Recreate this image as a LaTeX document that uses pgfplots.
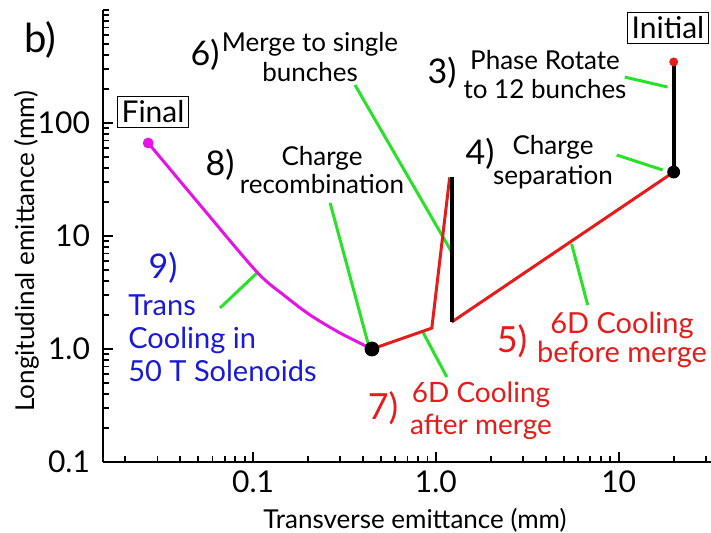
\documentclass[border=0pt]{standalone}
\usepackage{pgfplots}
\pgfplotsset{compat=1.18}
\usepackage{fontspec}
\setmainfont{Lato}
\definecolor{rd}{RGB}{228,28,28}
\definecolor{gr}{RGB}{40,225,40}
\definecolor{mg}{RGB}{228,20,228}
\definecolor{bl}{RGB}{25,25,215}
\begin{document}
\begin{tikzpicture}
\begin{axis}[
  xmode=log, ymode=log,
  scale only axis, width=304pt, height=226pt,
  xmin=0.0151, xmax=32, ymin=0.1, ymax=1000,
  axis x line*=bottom, axis y line*=left,
  axis line style={-, line width=1.2pt, black},
  xtick={0.1,1,10}, xticklabels={0.1,1.0,10},
  ytick={0.1,1,10,100}, yticklabels={0.1,1.0,10,100},
  minor xtick={0.02,0.03,0.04,0.05,0.06,0.07,0.08,0.09,0.2,0.3,0.4,0.5,0.6,0.7,0.8,0.9,2,3,4,5,6,7,8,9,20,30},
  minor ytick={0.2,0.3,0.4,0.5,0.6,0.7,0.8,0.9,2,3,4,5,6,7,8,9,20,30,40,50,60,70,80,90,200,300,400,500,600,700,800,900,1000},
  tick align=inside, major tick length=5pt, minor tick length=3pt,
  tick style={black, line width=0.9pt},
  /pgf/number format/assume math mode=true,
  ticklabel style={font=\fontsize{15}{15}\selectfont},
  yticklabel style={xshift=-3pt},
  xticklabel style={yshift=-1pt},
  xlabel={Transverse emittance (mm)},
  ylabel={Longitudinal emittance (mm)},
  label style={font=\fontsize{13}{13}\selectfont},
  xlabel style={at={(axis description cs:0.513,-0.128)}, anchor=center},
  ylabel style={at={(axis description cs:-0.125,0.467)}, anchor=center, rotate=0},
  clip=false,
]
% green leader lines
\addplot[gr, line width=1.5pt] coordinates {(10.8,255) (18.5,208)};
\addplot[gr, line width=1.5pt] coordinates {(9.75,52.1) (17.4,38.4)};
\addplot[gr, line width=1.5pt] coordinates {(0.361,217) (1.22,7.22)};
\addplot[gr, line width=1.5pt] coordinates {(0.264,19.6) (0.425,1.13)};
\addplot[gr, line width=1.5pt] coordinates {(0.066,2.31) (0.105,4.7)};
\addplot[gr, line width=1.5pt] coordinates {(0.849,1.41) (1.148,0.565)};
\addplot[gr, line width=1.5pt] coordinates {(5.53,8.49) (6.77,2.45)};
% trajectory
\addplot[mg, line width=1.5pt, smooth, tension=0.5] coordinates {(0.0267,66.5) (0.0513,18.8) (0.105,4.80) (0.1496,2.94) (0.205,2.0) (0.299,1.386) (0.447,1.0)};
\addplot[rd, line width=1.5pt] coordinates {(20,36.8) (1.22,1.73)};
\addplot[rd, line width=1.5pt] coordinates {(0.447,1.0) (0.95,1.53) (1.19,33)};
\addplot[black, line width=2pt] coordinates {(1.22,1.73) (1.22,33)};
\addplot[black, line width=2pt] coordinates {(20,347) (20,36.8)};
% markers
\addplot[only marks, mark=*, mark size=2pt, rd, mark options={draw=rd, fill=rd}] coordinates {(20,347)};
\addplot[only marks, mark=*, mark size=3pt, black] coordinates {(20,36.8)};
\addplot[only marks, mark=*, mark size=3.5pt, black] coordinates {(0.447,1.0)};
\addplot[only marks, mark=*, mark size=2.5pt, mg, mark options={draw=mg, fill=mg}] coordinates {(0.0267,66.5)};
\end{axis}
\begin{scope}[x=0.5pt, y=-0.5pt, shift={(-51.5pt,231pt)}]
\node[font=\fontsize{20}{20}\selectfont] at (40,40) {b)};
\node[draw, line width=0.6pt, inner sep=2pt, font=\fontsize{15}{15}\selectfont] at (153,112) {Final};
\node[draw, line width=0.6pt, inner sep=2pt, font=\fontsize{15}{15}\selectfont] at (668,28) {Initial};
\node[font=\fontsize{17}{17}\selectfont] at (205,55) {6)};
\node[align=center, font=\fontsize{13}{15}\selectfont] at (310,57) {Merge to single\\bunches};
\node[font=\fontsize{17}{17}\selectfont] at (442,73) {3)};
\node[align=center, font=\fontsize{13}{14.5}\selectfont] at (545,75) {Phase Rotate\\to 12 bunches};
\node[font=\fontsize{17}{17}\selectfont] at (480,154) {4)};
\node[align=center, font=\fontsize{13}{15}\selectfont] at (553,162) {Charge\\separation};
\node[font=\fontsize{17}{17}\selectfont] at (220,165) {8)};
\node[align=center, font=\fontsize{13}{14}\selectfont] at (322,170) {Charge\\recombination};
\node[bl, font=\fontsize{17}{17}\selectfont] at (163,268) {9)};
\node[bl, align=left, anchor=west, inner sep=0pt, font=\fontsize{14.5}{16.5}\selectfont] at (128,338) {Trans\\Cooling in\\50 T Solenoids};
\node[rd, font=\fontsize{18}{18}\selectfont] at (512,341) {5)};
\node[rd, align=center, font=\fontsize{14.5}{14.5}\selectfont] at (622,340) {6D Cooling\\before merge};
\node[rd, font=\fontsize{18}{18}\selectfont] at (383,408) {7)};
\node[rd, align=center, font=\fontsize{14}{16}\selectfont] at (481,411) {6D Cooling\\after merge};
\end{scope}
\pgfresetboundingbox
\useasboundingbox (-51.5pt,-35.5pt) rectangle (304pt,231pt);
\end{tikzpicture}
\end{document}
